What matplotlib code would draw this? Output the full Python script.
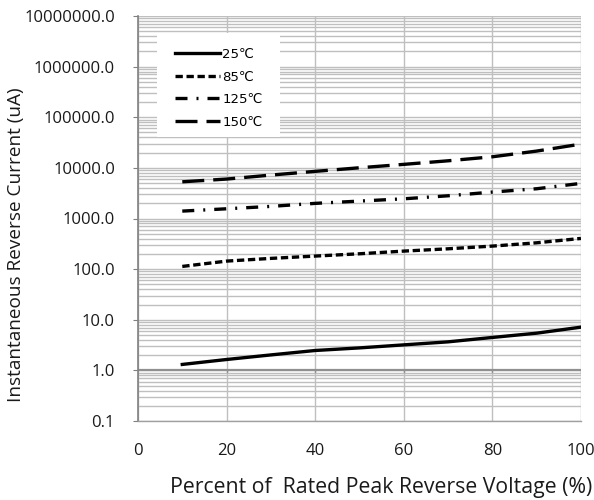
import matplotlib
matplotlib.use("Agg")
import matplotlib.pyplot as plt
from matplotlib.patches import Rectangle
from matplotlib.ticker import LogLocator, FixedLocator, FuncFormatter, NullFormatter

plt.rcParams['font.family'] = ['Open Sans', 'DejaVu Sans']

voltage_pct = [10, 20, 30, 40, 50, 60, 70, 80, 90, 100]
cur_25 = [1.31, 1.64, 2.02, 2.47, 2.78, 3.19, 3.66, 4.47, 5.43, 7.14]
cur_85 = [113, 144, 163, 181, 201, 227, 252, 285, 331, 404]
cur_125 = [1400, 1556, 1735, 1990, 2207, 2450, 2810, 3330, 3870, 4940]
cur_150 = [5310, 6010, 7210, 8530, 10050, 11730, 13800, 16560, 21460, 29500]
series_labels = ["25\u2103", "85\u2103", "125\u2103", "150\u2103"]
x_ticks = [0, 20, 40, 60, 80, 100]
y_ticks = [0.1, 1, 10, 100, 1000, 10000, 100000, 1000000, 10000000]

fig = plt.figure(figsize=(5.94, 5.0), dpi=100)
ax = fig.add_axes([0.2323, 0.158, 0.978 - 0.2323, 0.968 - 0.158])

ax.set_yscale('log')
ax.set_xlim(0, 100)
ax.set_ylim(0.1, 1e7)

grid_c = '#bfbfbf'
ax.yaxis.set_major_locator(FixedLocator(y_ticks))
ax.yaxis.set_minor_locator(LogLocator(base=10, subs=range(2, 10), numticks=20))
ax.yaxis.set_minor_formatter(NullFormatter())
ax.yaxis.set_major_formatter(FuncFormatter(lambda v, p: f"{v:.1f}"))
ax.xaxis.set_major_locator(FixedLocator(x_ticks))
ax.grid(True, which='major', axis='both', color=grid_c, lw=1.0)
ax.grid(True, which='minor', axis='y', color=grid_c, lw=1.0)
ax.tick_params(axis='y', which='minor', length=0)
ax.tick_params(axis='y', which='major', length=3.6, direction='out', color='#808080',
               labelsize=12, pad=13, labelcolor='#1a1a1a')
ax.tick_params(axis='x', which='major', length=0, labelsize=12, pad=16, labelcolor='#1a1a1a')
ax.set_axisbelow(True)

for s in ['top', 'right']:
    ax.spines[s].set_visible(False)
ax.spines['left'].set_color('#808080')
ax.spines['left'].set_linewidth(1.2)
ax.spines['bottom'].set_color('#a0a0a0')
ax.spines['bottom'].set_linewidth(1.0)

# horizontal axis line crossing at 1.0
ax.axhline(1.0, color='#909090', lw=1.6, zorder=1.5)
for xt in x_ticks[1:]:
    ax.plot([xt, xt], [1.0, 0.93], color='#909090', lw=1.0, zorder=1.5)

lw = 2.4
ax.plot(voltage_pct, cur_25, color='black', lw=lw, ls='-', label=series_labels[0])
ax.plot(voltage_pct, cur_85, color='black', lw=lw, ls=(0, (2.2, 1.1)), label=series_labels[1])
ax.plot(voltage_pct, cur_125, color='black', lw=lw, ls=(0, (3.6, 2.7, 0.6, 2.7)), label=series_labels[2])
ax.plot(voltage_pct, cur_150, color='black', lw=lw, ls=(0, (6.6, 2.7)), label=series_labels[3])

# white legend box
ax.add_patch(Rectangle((0.0429, 0.701), 0.3205 - 0.0429, 0.958 - 0.701,
                       transform=ax.transAxes, facecolor='white', edgecolor='none', zorder=2.5))

leg = ax.legend(loc='upper left', bbox_to_anchor=(0.0835, 0.921), frameon=False,
                prop={'family': 'DejaVu Sans', 'size': 9.5},
                handlelength=3.4, labelspacing=0.72, handletextpad=0.2,
                borderpad=0, borderaxespad=0)

ax.set_xlabel('Percent of  Rated Peak Reverse Voltage (%)', fontsize=15.3, color='#1a1a1a')
ax.xaxis.set_label_coords(0.549, -0.163)
ax.xaxis.label.set_va('center')
ax.set_ylabel('Instantaneous Reverse Current (uA)', fontsize=13.7, color='#1a1a1a')
ax.yaxis.set_label_coords(-0.275, 0.435)
ax.yaxis.label.set_va('center')

fig.savefig('out.png', dpi=100)
